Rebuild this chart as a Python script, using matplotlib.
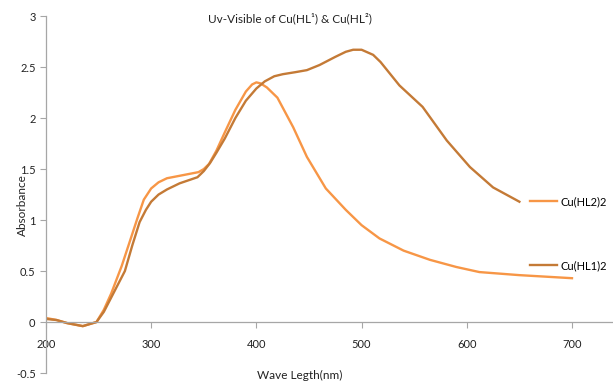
import matplotlib
matplotlib.use("Agg")
import matplotlib.pyplot as plt

plt.rcParams['font.family'] = ['Lato', 'DejaVu Sans']

# Cu(HL2)2 - light orange curve
wl_hl2 = [200, 210, 220, 235, 248, 255, 262, 272, 280, 287, 293, 300, 307, 315, 330, 345, 350, 355,
          362, 370, 380, 390, 396, 400, 404, 410, 420, 435, 448, 466, 485, 500, 517, 540, 565,
          590, 612, 650, 700]
abs_hl2 = [0.04, 0.02, -0.01, -0.04, 0.0, 0.12, 0.28, 0.55, 0.8, 1.02, 1.2, 1.31, 1.37, 1.41, 1.44, 1.47, 1.5, 1.55,
           1.68, 1.86, 2.08, 2.26, 2.33, 2.35, 2.34, 2.3, 2.2, 1.91, 1.62, 1.31, 1.1, 0.95, 0.82, 0.7, 0.61,
           0.54, 0.49, 0.46, 0.43]

# Cu(HL1)2 - dark orange curve
wl_hl1 = [200, 210, 220, 235, 248, 255, 262, 275, 282, 289, 295, 300, 307, 315, 327, 344, 350, 356,
          362, 370, 380, 390, 400, 408, 417, 425, 437, 448, 460, 475, 485, 492, 500, 511, 518,
          536, 558, 581, 603, 625, 650]
abs_hl1 = [0.03, 0.02, -0.01, -0.04, 0.0, 0.1, 0.24, 0.5, 0.75, 0.98, 1.1, 1.18, 1.25, 1.3, 1.36, 1.42, 1.48, 1.56,
           1.66, 1.8, 2.0, 2.17, 2.29, 2.36, 2.41, 2.43, 2.45, 2.47, 2.52, 2.6, 2.65, 2.67, 2.67, 2.62, 2.55,
           2.32, 2.11, 1.78, 1.52, 1.32, 1.18]

xticks = [200, 300, 400, 500, 600, 700]
yticks = [-0.5, 0, 0.5, 1, 1.5, 2, 2.5, 3]

fig = plt.figure(figsize=(6.13, 3.83), dpi=100)
ax = fig.add_axes([0.075, 0.026, 0.925, 0.932])

l2, = ax.plot(wl_hl2, abs_hl2, color='#F79646', lw=1.7, label='Cu(HL2)2')
l1, = ax.plot(wl_hl1, abs_hl1, color='#C47A36', lw=1.7, label='Cu(HL1)2')

ax.set_xlim(200, 739)
ax.set_ylim(-0.5, 3)
ax.set_xticks(xticks)
ax.set_yticks(yticks)
ax.set_yticklabels([str(v) for v in yticks])

for s in ['top', 'right']:
    ax.spines[s].set_visible(False)
ax.spines['bottom'].set_position(('data', 0))
for s in ['left', 'bottom']:
    ax.spines[s].set_color('#A6A6A6')
    ax.spines[s].set_linewidth(0.9)
ax.tick_params(axis='both', direction='out', length=4, color='#A6A6A6',
               labelsize=8, labelcolor='#222222')
ax.tick_params(axis='x', pad=8)

fig.legend(handles=[l2, l1], loc='upper left', bbox_to_anchor=(530 / 613, 1 - 196 / 383),
           frameon=False, fontsize=8, handlelength=2.4, labelspacing=4.8,
           handletextpad=0.35, borderpad=0, borderaxespad=0)

fig.text(290 / 613, 1 - 18 / 383, 'Uv-Visible of Cu(HL¹) & Cu(HL²)',
         ha='center', va='center', fontsize=8.5, color='#222222')
fig.text(300 / 613, 1 - 375 / 383, 'Wave Legth(nm)', ha='center', va='center',
         fontsize=8.5, color='#222222')
fig.text(22 / 613, 1 - 205 / 383, 'Absorbance', ha='center', va='center',
         rotation=90, fontsize=8.5, color='#222222')

fig.savefig('out.png', dpi=100)
